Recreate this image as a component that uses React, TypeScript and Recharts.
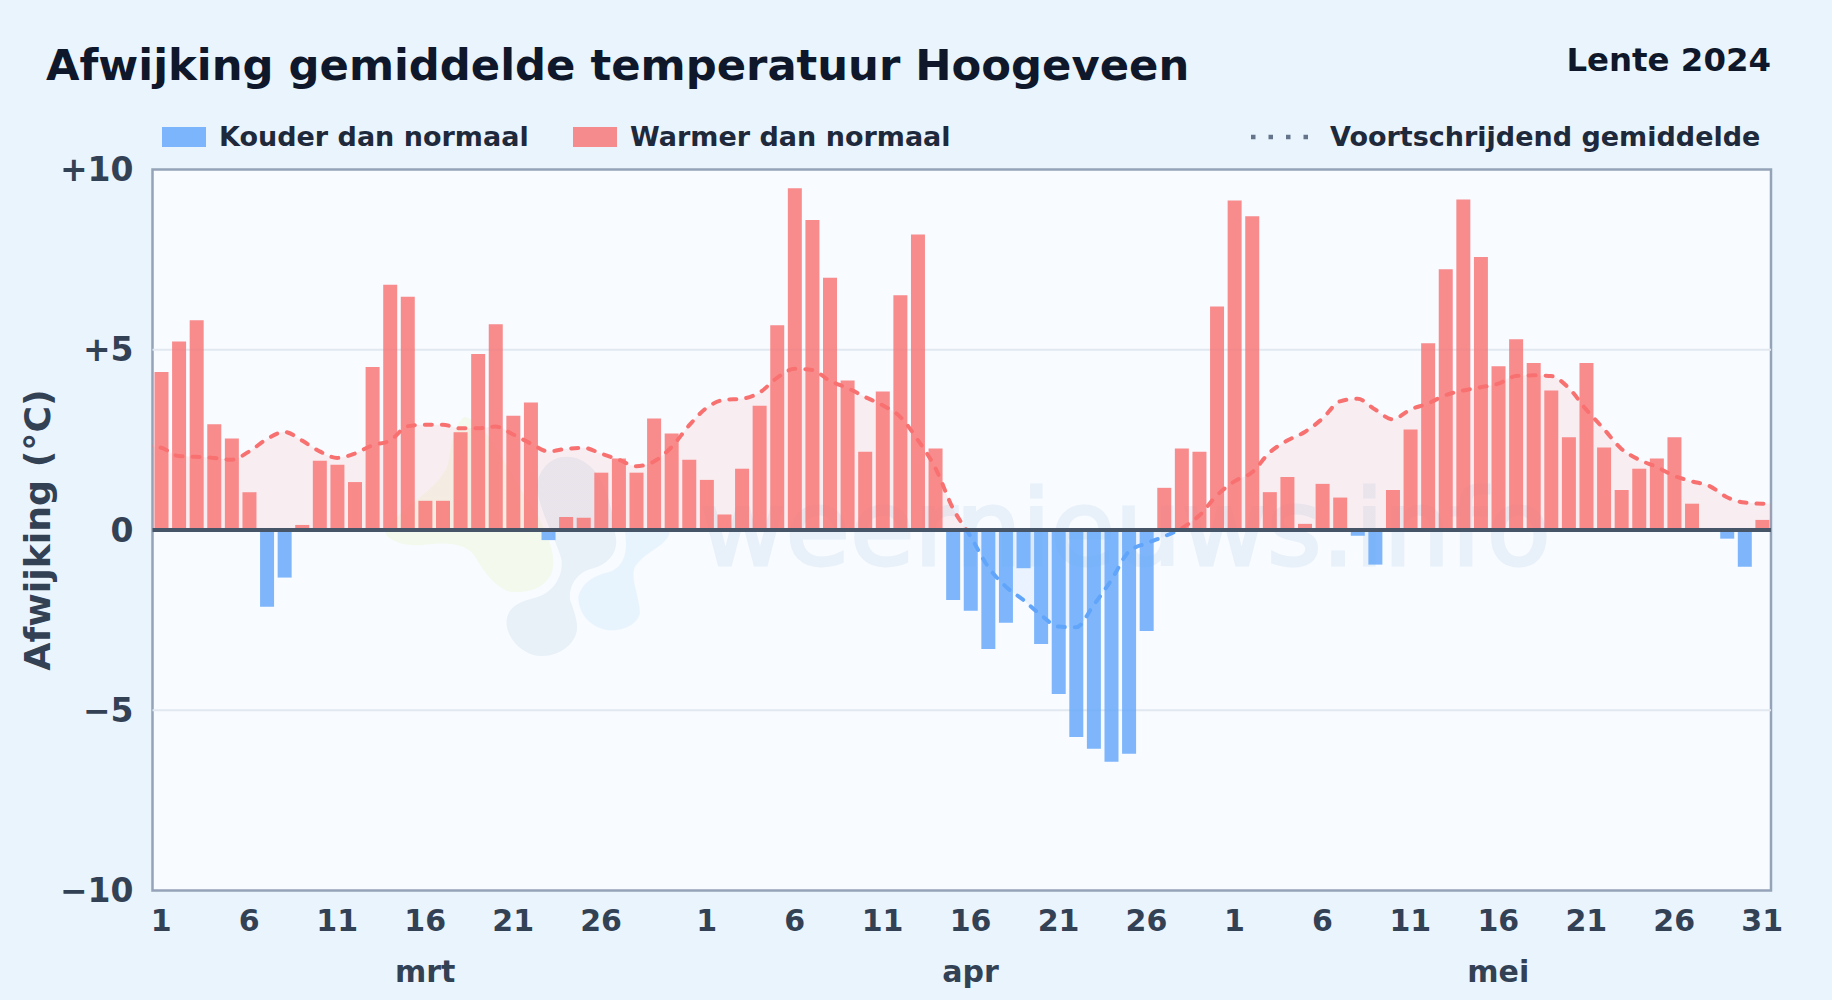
import { Area, Bar, CartesianGrid, ComposedChart, ReferenceLine, XAxis, YAxis } from 'recharts';

const font = '"DejaVu Sans", sans-serif';

const monthNames = ['mrt', 'apr', 'mei'];
const monthTicks = [16, 47, 77];
const dayTicks = [1, 6, 11, 16, 21, 26, 32, 37, 42, 47, 52, 57, 62, 67, 72, 77, 82, 87, 92];
const dayTickLabels = [1, 6, 11, 16, 21, 26, 1, 6, 11, 16, 21, 26, 1, 6, 11, 16, 21, 26, 31];
const yTicks = [-10, -5, 0, 5, 10];
const yTickLabels = ['−10', '−5', '0', '+5', '+10'];

// afwijking per dag, mrt t/m mei
const deviations = [
  4.38, 5.23, 5.82, 2.93, 2.54, 1.05, -2.13, -1.32, 0.14, 1.92, 1.81, 1.33, 4.52, 6.8, 6.47, 0.81,
  0.81, 2.71, 4.88, 5.71, 3.17, 3.54, -0.28, 0.36, 0.34, 1.59, 1.98, 1.59, 3.09, 2.68, 1.95,
  1.39, 0.43, 1.7, 3.45, 5.68, 9.48, 8.6, 7.0, 4.15, 2.17, 3.84, 6.51, 8.2, 2.26, -1.94, -2.24,
  -3.3, -2.57, -1.06, -3.16, -4.55, -5.74, -6.07, -6.43, -6.21, -2.8, 1.17, 2.26, 2.17, 6.2,
  9.14, 8.7, 1.05, 1.47, 0.17, 1.28, 0.9, -0.16, -0.96, 1.11, 2.79, 5.18, 7.23, 9.17, 7.57, 4.54,
  5.29, 4.63, 3.87, 2.57, 4.63, 2.29, 1.11, 1.7, 1.98, 2.57, 0.73, 0, -0.24, -1.02, 0.28,
];

const rollingAvg = [
  2.28, 2.05, 2.03, 2.0, 1.95, 2.18, 2.52, 2.72, 2.48, 2.18, 2.0, 2.12, 2.35, 2.48, 2.88, 2.92,
  2.92, 2.82, 2.82, 2.87, 2.65, 2.4, 2.18, 2.25, 2.28, 2.12, 1.95, 1.77, 1.9, 2.3, 2.9,
  3.39, 3.61, 3.64, 3.81, 4.22, 4.47, 4.44, 4.14, 3.94, 3.69, 3.46, 3.14, 2.5, 1.72, 0.6, -0.18,
  -1.02, -1.57, -1.94, -2.36, -2.68, -2.7, -2.08, -1.39, -0.6, -0.37, -0.18, 0.05, 0.4, 0.96,
  1.35, 1.6, 2.15, 2.48, 2.72, 3.09, 3.57, 3.64, 3.34, 3.07, 3.34, 3.51, 3.74, 3.87, 3.96, 4.06,
  4.27, 4.29, 4.27, 3.94, 3.34, 2.8, 2.25, 1.95, 1.75, 1.5, 1.35, 1.22, 0.91, 0.76, 0.73,
];

// lijn loopt door tot de randen van het plotvlak, daarbuiten wordt afgeknipt
const edgeAvgStart = 2.34;
const edgeAvgEnd = 0.74;

const chartData = [
  { day: 0, avg: edgeAvgStart },
  ...deviations.map((v, i) => ({
    day: i + 1,
    warm: v > 0 ? v : null,
    cold: v < 0 ? v : null,
    avg: rollingAvg[i],
  })),
  { day: 93, avg: edgeAvgEnd },
];

const avgMax = Math.max(...rollingAvg);
const avgMin = Math.min(...rollingAvg);
const zeroOffset = avgMax / (avgMax - avgMin);

const legendText = { position: 'absolute', top: 120, fontFamily: font, fontWeight: 700, fontSize: 27, lineHeight: '34px', color: '#1e293b', whiteSpace: 'nowrap' } as const;

export default function App() {
  return (
    <div style={{ position: 'absolute', left: 0, top: 0, width: 1832, height: 1000, background: '#eaf4fc', overflow: 'hidden' }}>
      <svg width={1832} height={1000} style={{ position: 'absolute', left: 0, top: 0 }}>
        <rect x={152.5} y={169.5} width={1618.5} height={721} fill="#f8fbff" stroke="#94a3b8" strokeWidth={2.5} />
        <g transform="translate(380,400) scale(0.3333)">
          <path fill="#f4f9ee" d="M255 50C330 70 400 250 470 340C510 420 530 470 515 520C490 570 440 580 390 575C340 560 310 510 285 470C260 430 200 425 130 435C70 440 20 420 15 395C60 320 180 270 205 190C215 120 230 60 255 50Z" />
          <path fill="#e8f0f8" d="M560 170C630 170 690 240 705 400C720 450 690 490 640 505C590 515 565 560 570 600C585 640 600 680 585 710C560 760 500 775 460 765C410 750 375 700 380 660C385 620 420 605 460 595C510 585 550 540 545 480C530 420 480 340 470 260C475 210 510 170 560 170Z" />
          <path fill="#e8f4fd" d="M870 395C860 440 800 450 765 500C750 540 780 590 780 640C770 680 720 695 680 690C630 680 595 640 595 590C610 540 650 525 690 515C730 500 745 460 735 395Z" />
        </g>
        <text x={700} y={565} fontFamily={font} fontSize={104.6} fill="#e8f0f9" stroke="#e8f0f9" strokeWidth={3}>weernieuws.info</text>
      </svg>

      <div style={{ position: 'absolute', left: 46, top: 39, fontFamily: font, fontWeight: 700, fontSize: 43.3, lineHeight: '52px', color: '#0f172a', whiteSpace: 'nowrap' }}>
        Afwijking gemiddelde temperatuur Hoogeveen
      </div>
      <div style={{ position: 'absolute', right: 61, top: 41, fontFamily: font, fontWeight: 700, fontSize: 32.4, lineHeight: '38px', color: '#0f172a', whiteSpace: 'nowrap' }}>
        Lente 2024
      </div>

      <div style={{ position: 'absolute', left: 162, top: 127, width: 44, height: 20, background: '#60a5fa', opacity: 0.8 }} />
      <div style={{ ...legendText, left: 219 }}>Kouder dan normaal</div>
      <div style={{ position: 'absolute', left: 573, top: 127, width: 44, height: 20, background: '#f87171', opacity: 0.8 }} />
      <div style={{ ...legendText, left: 630 }}>Warmer dan normaal</div>
      <svg width={60} height={10} style={{ position: 'absolute', left: 1250, top: 132 }}>
        <line x1={1} y1={5} x2={59} y2={5} stroke="#64748b" strokeWidth={4.5} strokeDasharray="4.5 13" />
      </svg>
      <div style={{ ...legendText, left: 1330 }}>Voortschrijdend gemiddelde</div>

      <div style={{ position: 'absolute', left: 0, top: 0 }}>
        <ComposedChart
          width={1832}
          height={1000}
          data={chartData}
          margin={{ top: 169.5, right: 61, bottom: 107.5, left: 151.5 }}
          stackOffset="sign"
        >
          <defs>
            <linearGradient id="avgStroke" x1="0" y1="0" x2="0" y2="1">
              <stop offset={zeroOffset} stopColor="#f87171" />
              <stop offset={zeroOffset} stopColor="#60a5fa" />
            </linearGradient>
            <linearGradient id="avgFill" x1="0" y1="0" x2="0" y2="1">
              <stop offset={zeroOffset} stopColor="#f87171" stopOpacity={0.16} />
              <stop offset={zeroOffset} stopColor="#60a5fa" stopOpacity={0.16} />
            </linearGradient>
          </defs>
          <CartesianGrid vertical={false} horizontalValues={[-5, 5]} stroke="#e2e8f0" strokeWidth={2} />
          <XAxis
            xAxisId="days"
            dataKey="day"
            type="number"
            domain={[0.5, 92.5]}
            allowDataOverflow
            ticks={dayTicks}
            interval={0}
            height={1}
            axisLine={false}
            tickLine={false}
            tickMargin={13}
            tickFormatter={(d) => String(dayTickLabels[dayTicks.indexOf(d)])}
            tick={{ fontFamily: font, fontWeight: 700, fontSize: 30, fill: '#334155' }}
          />
          <XAxis
            xAxisId="months"
            dataKey="day"
            type="number"
            domain={[0.5, 92.5]}
            allowDataOverflow
            ticks={monthTicks}
            interval={0}
            height={1}
            axisLine={false}
            tickLine={false}
            tickMargin={63}
            tickFormatter={(d) => monthNames[monthTicks.indexOf(d)]}
            tick={{ fontFamily: font, fontWeight: 700, fontSize: 30, fill: '#334155' }}
          />
          <YAxis
            type="number"
            domain={[-10, 10]}
            ticks={yTicks}
            interval={0}
            width={1}
            axisLine={false}
            tickLine={false}
            tickMargin={13}
            tickFormatter={(v) => yTickLabels[yTicks.indexOf(v)]}
            tick={{ fontFamily: font, fontWeight: 700, fontSize: 33, fill: '#334155' }}
            label={{ value: 'Afwijking (°C)', angle: -90, position: 'left', offset: 114, style: { fontFamily: font, fontWeight: 700, fontSize: 36.3, fill: '#334155', textAnchor: 'middle' } }}
          />
          <Area
            xAxisId="days"
            type="monotone"
            dataKey="avg"
            baseValue={0}
            stroke="url(#avgStroke)"
            strokeWidth={4}
            strokeDasharray="7 10"
            strokeLinecap="round"
            fill="url(#avgFill)"
            dot={false}
            activeDot={false}
            isAnimationActive={false}
          />
          <Bar xAxisId="days" dataKey="warm" stackId="dev" barSize={14} fill="#f87171" fillOpacity={0.8} isAnimationActive={false} />
          <Bar xAxisId="days" dataKey="cold" stackId="dev" barSize={14} fill="#60a5fa" fillOpacity={0.8} isAnimationActive={false} />
          <ReferenceLine xAxisId="days" y={0} stroke="#475569" strokeWidth={4} />
        </ComposedChart>
      </div>
    </div>
  );
}
